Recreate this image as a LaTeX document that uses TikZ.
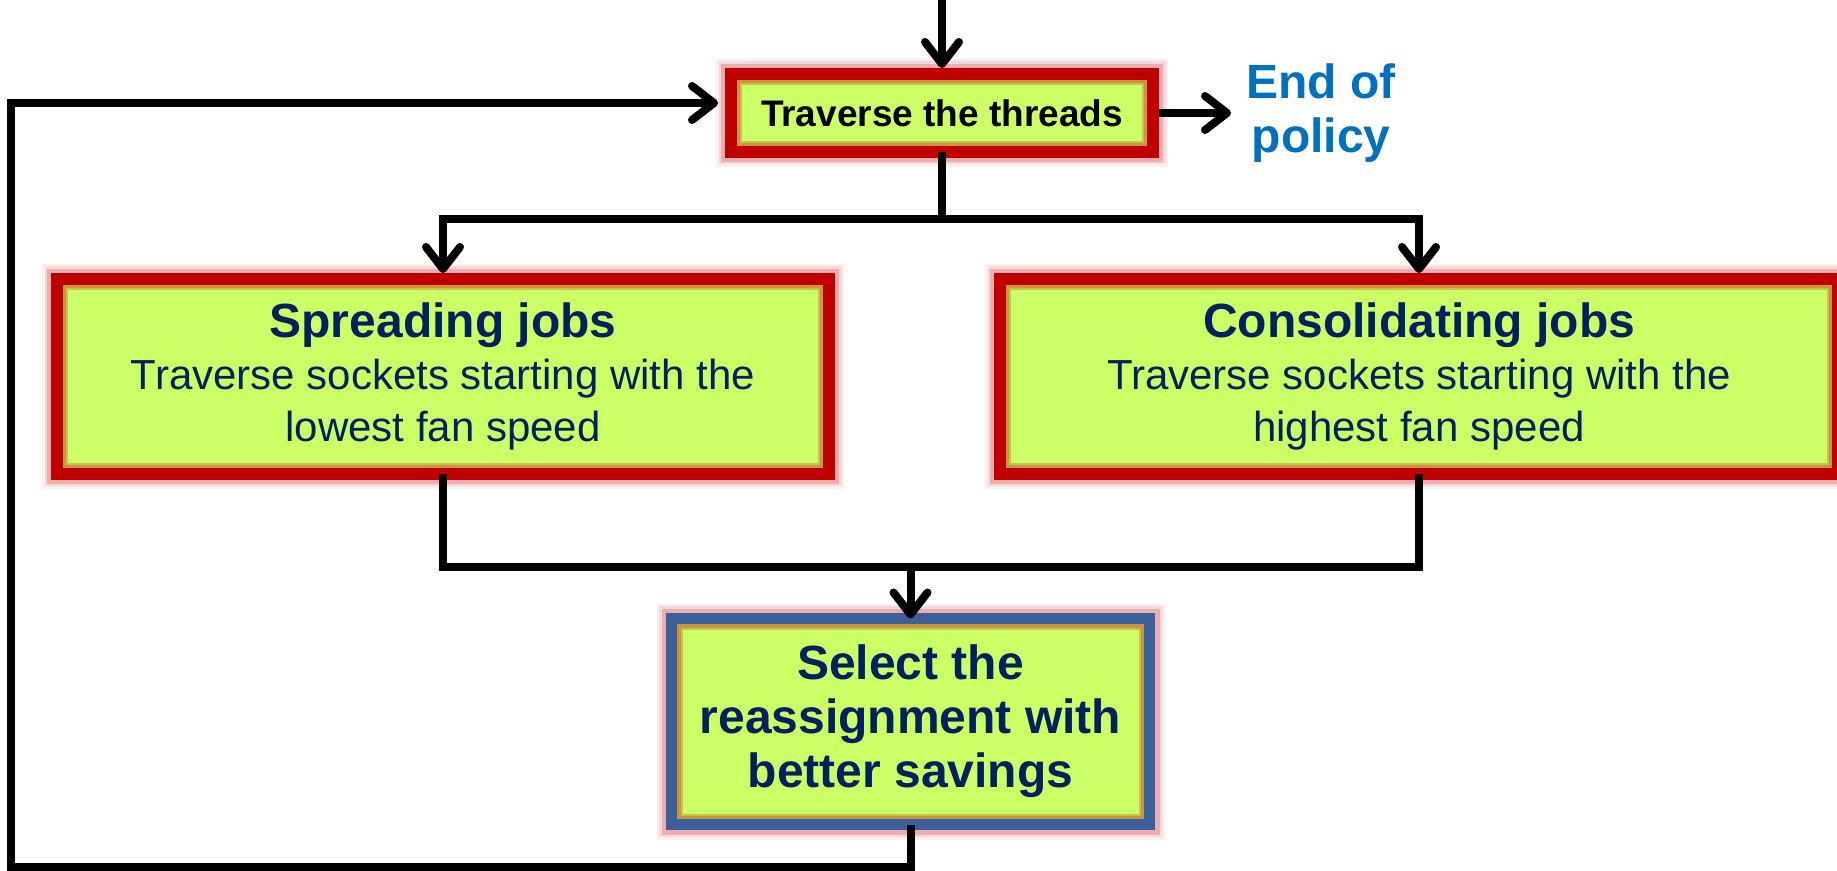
\documentclass[tikz,border=0pt]{standalone}
\usepackage{fontspec}
\setmainfont{Liberation Sans}
\usetikzlibrary{arrows.meta,positioning,calc}
\definecolor{lime}{HTML}{CCFF66}
\definecolor{frame}{HTML}{C00000}
\definecolor{navy}{HTML}{002060}
\definecolor{steel}{HTML}{3B5F9A}
\definecolor{policy}{HTML}{0070C0}
\definecolor{rim}{HTML}{C8963C}

\begin{document}
\begin{tikzpicture}[
  link/.style={line width=4pt},
  flow/.style={
    link,
    -{Straight Barb[length=11pt,width=17pt,round]}
  },
  box/.style={
    rectangle,
    fill=lime,
    draw=frame,
    line width=6pt,
    outer sep=0pt,
    align=center,
    text=navy,
    preaction={draw=frame, line width=15pt, opacity=0.06},
    preaction={draw=frame, line width=12.5pt, opacity=0.1},
    preaction={draw=frame, line width=10pt, opacity=0.2},
    path picture={
      \draw[rim!60!lime, line width=11pt] (path picture bounding box.south west) rectangle (path picture bounding box.north east);
      \draw[rim, line width=9pt] (path picture bounding box.south west) rectangle (path picture bounding box.north east);
    }
  },
  body/.style={font=\fontsize{21}{26}\selectfont},
  heading/.style={font=\fontsize{24}{27}\selectfont\bfseries}
]

\useasboundingbox (0,0) rectangle (918.5pt,-435.5pt);
\coordinate (origin) at (0,0);

\node[box, text=black, font=\fontsize{18.5}{22}\selectfont\bfseries, minimum width=211pt, minimum height=39pt] (trav) at (471pt,-56.5pt) {Traverse the threads};
\node[heading, text=policy, align=center, inner sep=0pt, right=46.5pt of trav] (eop) {End of\\policy};
\node[box, body, minimum width=386pt, minimum height=97.5pt, below=63.5pt of trav, xshift=-249.5pt] (spread) {{\fontsize{24}{26}\selectfont\bfseries Spreading jobs}\\Traverse sockets starting with the\\lowest fan speed};
\node[box, body, minimum width=419pt, minimum height=97.5pt, below=63.5pt of trav, xshift=238.5pt] (consol) {{\fontsize{24}{26}\selectfont\bfseries Consolidating jobs}\\Traverse sockets starting with the\\highest fan speed};
\node[box, heading, draw=steel, line width=5.5pt, minimum width=239pt, minimum height=103pt, below=72.25pt of spread, xshift=233.75pt] (sel) {Select the\\reassignment with\\better savings};

\coordinate (entry) at (trav.north |- origin);
\coordinate (fork) at ([yshift=-33.75pt]trav.south);
\coordinate (join) at ([yshift=25.75pt]sel.north);
\coordinate (back) at ([yshift=-21.25pt]sel.south);
\coordinate (loop) at (5.25pt,-51.5pt);

\draw[flow, shorten >=3pt] (entry) -- (trav.north);
\draw[flow, shorten <=3pt, shorten >=7.5pt] (trav.east) -- (eop.west);
\draw[link] (trav.south) -- (fork);
\draw[flow, shorten >=3pt] (fork) -| (spread.north);
\draw[flow, shorten >=3pt] (fork) -| (consol.north);
\draw[link] (spread.south) |- (join) -| (consol.south);
\draw[flow] (join) -- (sel.north);
\draw[flow, shorten >=6.5pt] (sel.south) -- (back) -| (loop) -- ([yshift=5pt]trav.west);

\end{tikzpicture}
\end{document}
